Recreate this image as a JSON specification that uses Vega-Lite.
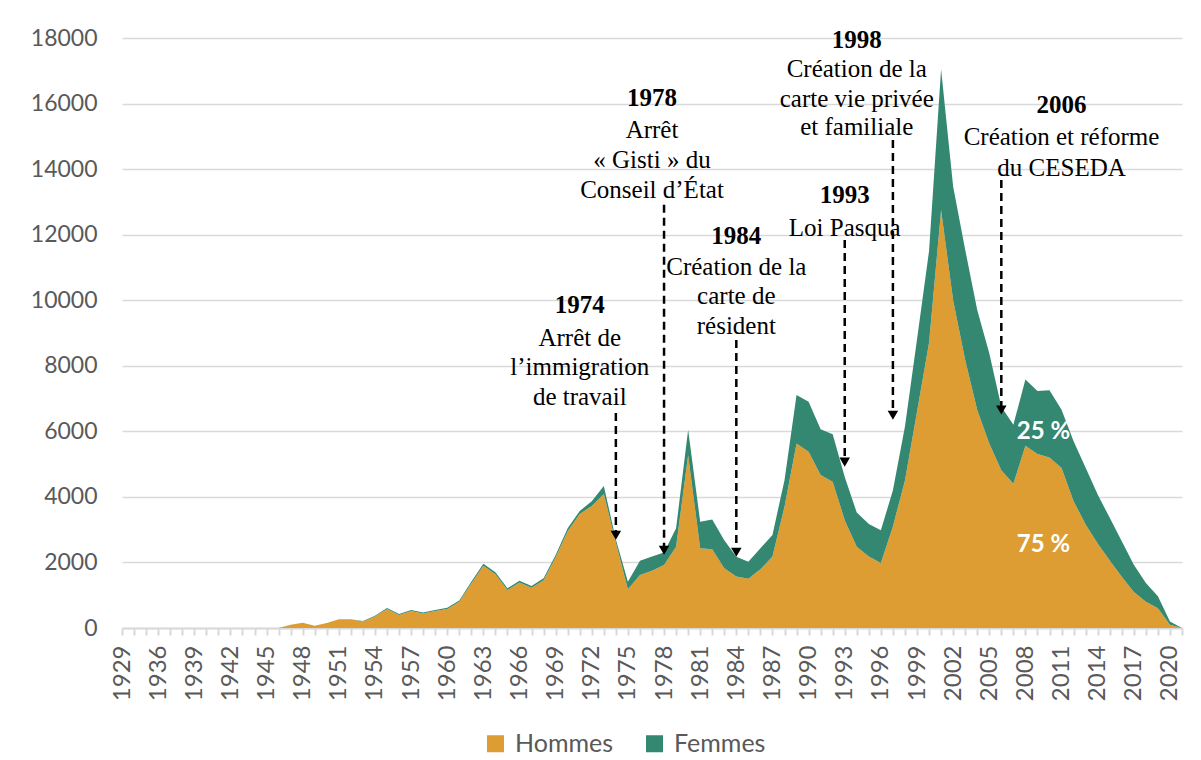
{
  "$schema": "https://vega.github.io/schema/vega-lite/v6.json",
  "autosize": "none",
  "padding": {"left": 122, "top": 38, "right": 19, "bottom": 132},
  "width": 1060,
  "height": 590,
  "background": "white",
  "config": {
    "view": {"stroke": null},
    "axis": {"labelFont": "Lato", "labelFontSize": 23, "labelColor": "#595959"},
    "legend": {"labelFont": "Lato", "labelFontSize": 25, "labelColor": "#595959"}
  },
  "datasets": {
    "series": [
      {"year": 1929, "Hommes": 0, "Femmes": 0},
      {"year": 1931, "Hommes": 0, "Femmes": 0},
      {"year": 1934, "Hommes": 0, "Femmes": 0},
      {"year": 1936, "Hommes": 0, "Femmes": 0},
      {"year": 1937, "Hommes": 0, "Femmes": 0},
      {"year": 1938, "Hommes": 0, "Femmes": 0},
      {"year": 1939, "Hommes": 0, "Femmes": 0},
      {"year": 1940, "Hommes": 0, "Femmes": 0},
      {"year": 1941, "Hommes": 0, "Femmes": 0},
      {"year": 1942, "Hommes": 0, "Femmes": 0},
      {"year": 1943, "Hommes": 0, "Femmes": 0},
      {"year": 1944, "Hommes": 0, "Femmes": 0},
      {"year": 1945, "Hommes": 0, "Femmes": 0},
      {"year": 1946, "Hommes": 0, "Femmes": 0},
      {"year": 1947, "Hommes": 100, "Femmes": 0},
      {"year": 1948, "Hommes": 160, "Femmes": 0},
      {"year": 1949, "Hommes": 70, "Femmes": 0},
      {"year": 1950, "Hommes": 150, "Femmes": 0},
      {"year": 1951, "Hommes": 270, "Femmes": 0},
      {"year": 1952, "Hommes": 270, "Femmes": 0},
      {"year": 1953, "Hommes": 200, "Femmes": 10},
      {"year": 1954, "Hommes": 350, "Femmes": 20},
      {"year": 1955, "Hommes": 580, "Femmes": 30},
      {"year": 1956, "Hommes": 400, "Femmes": 30},
      {"year": 1957, "Hommes": 520, "Femmes": 30},
      {"year": 1958, "Hommes": 440, "Femmes": 30},
      {"year": 1959, "Hommes": 520, "Femmes": 30},
      {"year": 1960, "Hommes": 580, "Femmes": 40},
      {"year": 1961, "Hommes": 800, "Femmes": 40},
      {"year": 1962, "Hommes": 1360, "Femmes": 50},
      {"year": 1963, "Hommes": 1900, "Femmes": 60},
      {"year": 1964, "Hommes": 1640, "Femmes": 60},
      {"year": 1965, "Hommes": 1160, "Femmes": 50},
      {"year": 1966, "Hommes": 1390, "Femmes": 50},
      {"year": 1967, "Hommes": 1230, "Femmes": 50},
      {"year": 1968, "Hommes": 1460, "Femmes": 55},
      {"year": 1969, "Hommes": 2160, "Femmes": 70},
      {"year": 1970, "Hommes": 2950, "Femmes": 90},
      {"year": 1971, "Hommes": 3480, "Femmes": 90},
      {"year": 1972, "Hommes": 3720, "Femmes": 150},
      {"year": 1973, "Hommes": 4090, "Femmes": 240},
      {"year": 1974, "Hommes": 2600, "Femmes": 100},
      {"year": 1975, "Hommes": 1180, "Femmes": 230},
      {"year": 1976, "Hommes": 1620, "Femmes": 430},
      {"year": 1977, "Hommes": 1750, "Femmes": 430},
      {"year": 1978, "Hommes": 1920, "Femmes": 380},
      {"year": 1979, "Hommes": 2480, "Femmes": 560},
      {"year": 1980, "Hommes": 5270, "Femmes": 780},
      {"year": 1981, "Hommes": 2430, "Femmes": 810},
      {"year": 1982, "Hommes": 2400, "Femmes": 910},
      {"year": 1983, "Hommes": 1820, "Femmes": 860},
      {"year": 1984, "Hommes": 1570, "Femmes": 600},
      {"year": 1985, "Hommes": 1500, "Femmes": 520},
      {"year": 1986, "Hommes": 1790, "Femmes": 640},
      {"year": 1987, "Hommes": 2180, "Femmes": 660},
      {"year": 1988, "Hommes": 3700, "Femmes": 810},
      {"year": 1989, "Hommes": 5630, "Femmes": 1480},
      {"year": 1990, "Hommes": 5380, "Femmes": 1520},
      {"year": 1991, "Hommes": 4670, "Femmes": 1390},
      {"year": 1992, "Hommes": 4460, "Femmes": 1450},
      {"year": 1993, "Hommes": 3290, "Femmes": 1320},
      {"year": 1994, "Hommes": 2480, "Femmes": 1040},
      {"year": 1995, "Hommes": 2180, "Femmes": 990},
      {"year": 1996, "Hommes": 1980, "Femmes": 1000},
      {"year": 1997, "Hommes": 3100, "Femmes": 1100},
      {"year": 1998, "Hommes": 4500, "Femmes": 1650},
      {"year": 1999, "Hommes": 6600, "Femmes": 2200},
      {"year": 2000, "Hommes": 8700, "Femmes": 2800},
      {"year": 2001, "Hommes": 12750, "Femmes": 4300},
      {"year": 2002, "Hommes": 10000, "Femmes": 3470},
      {"year": 2003, "Hommes": 8180, "Femmes": 3360},
      {"year": 2004, "Hommes": 6650, "Femmes": 3050},
      {"year": 2005, "Hommes": 5630, "Femmes": 2750},
      {"year": 2006, "Hommes": 4810, "Femmes": 1940},
      {"year": 2007, "Hommes": 4400, "Femmes": 1800},
      {"year": 2008, "Hommes": 5560, "Femmes": 2020},
      {"year": 2009, "Hommes": 5310, "Femmes": 1920},
      {"year": 2010, "Hommes": 5200, "Femmes": 2050},
      {"year": 2011, "Hommes": 4880, "Femmes": 1780},
      {"year": 2012, "Hommes": 3870, "Femmes": 1830},
      {"year": 2013, "Hommes": 3160, "Femmes": 1730},
      {"year": 2014, "Hommes": 2580, "Femmes": 1490},
      {"year": 2015, "Hommes": 2060, "Femmes": 1300},
      {"year": 2016, "Hommes": 1560, "Femmes": 1090},
      {"year": 2017, "Hommes": 1100, "Femmes": 830},
      {"year": 2018, "Hommes": 800, "Femmes": 570},
      {"year": 2019, "Hommes": 600, "Femmes": 370},
      {"year": 2020, "Hommes": 100, "Femmes": 100},
      {"year": 2021, "Hommes": 0, "Femmes": 0}
    ],
    "arrows": [
      {"year": 1974, "top": 6560, "head": 2830},
      {"year": 1978, "top": 12910, "head": 2370},
      {"year": 1984, "top": 8790, "head": 2310},
      {"year": 1993, "top": 11840, "head": 5060},
      {"year": 1997, "top": 14890, "head": 6490},
      {"year": 2006, "top": 13670, "head": 6650}
    ],
    "notes": [
      {"year": 1971, "v": 9850, "label": "1974", "bold": true},
      {"year": 1971, "v": 8850, "label": "Arrêt de", "bold": false},
      {"year": 1971, "v": 7960, "label": "l’immigration", "bold": false},
      {"year": 1971, "v": 7050, "label": "de travail", "bold": false},
      {"year": 1977, "v": 16180, "label": "1978", "bold": true},
      {"year": 1977, "v": 15200, "label": "Arrêt", "bold": false},
      {"year": 1977, "v": 14280, "label": "« Gisti » du", "bold": false},
      {"year": 1977, "v": 13370, "label": "Conseil d’État", "bold": false},
      {"year": 1984, "v": 11960, "label": "1984", "bold": true},
      {"year": 1984, "v": 11010, "label": "Création de la", "bold": false},
      {"year": 1984, "v": 10130, "label": "carte de", "bold": false},
      {"year": 1984, "v": 9210, "label": "résident", "bold": false},
      {"year": 1993, "v": 13210, "label": "1993", "bold": true},
      {"year": 1993, "v": 12210, "label": "Loi Pasqua", "bold": false},
      {"year": 1994, "v": 17950, "label": "1998", "bold": true},
      {"year": 1994, "v": 17040, "label": "Création de la", "bold": false},
      {"year": 1994, "v": 16150, "label": "carte vie privée", "bold": false},
      {"year": 1994, "v": 15270, "label": "et familiale", "bold": false},
      {"year": 2011, "v": 15960, "label": "2006", "bold": true},
      {"year": 2011, "v": 14980, "label": "Création et réforme", "bold": false},
      {"year": 2011, "v": 14040, "label": "du CESEDA", "bold": false}
    ],
    "shares": [
      {"year": 2009, "v": 5980, "label": "25 %"},
      {"year": 2009, "v": 2530, "label": "75 %"}
    ]
  },
  "encoding": {
    "x": {
      "field": "year",
      "type": "ordinal",
      "scale": {"type": "point", "padding": 0},
      "sort": "ascending",
      "axis": {
        "title": null,
        "labelAngle": -90,
        "labelOverlap": false,
        "labelPadding": 10,
        "labelFontSize": 24,
        "labelExpr": "(datum.value == 1929 || (datum.value >= 1936 && (datum.value - 1936) % 3 == 0)) ? datum.label : ''",
        "domainColor": "#d9d9d9",
        "domainWidth": 2,
        "tickColor": "#d9d9d9",
        "tickWidth": 2,
        "tickSize": 7,
        "grid": false
      }
    }
  },
  "layer": [
    {
      "data": {"name": "series"},
      "transform": [{"fold": ["Hommes", "Femmes"], "as": ["sexe", "n"]}],
      "mark": {"type": "area", "opacity": 1},
      "encoding": {
        "y": {
          "field": "n",
          "type": "quantitative",
          "stack": "zero",
          "scale": {"domain": [0, 18000], "nice": false},
          "axis": {
            "title": null,
            "values": [0, 2000, 4000, 6000, 8000, 10000, 12000, 14000, 16000, 18000],
            "format": "d",
            "domain": false,
            "ticks": false,
            "labelPadding": 25,
            "gridColor": "#d9d9d9",
            "gridWidth": 1.5
          }
        },
        "color": {
          "field": "sexe",
          "type": "nominal",
          "scale": {"domain": ["Hommes", "Femmes"], "range": ["#DD9D32", "#348770"]},
          "legend": {
            "title": null,
            "orient": "none",
            "direction": "horizontal",
            "legendX": 361,
            "legendY": 693,
            "symbolType": "square",
            "symbolSize": 289,
            "symbolStrokeWidth": 0,
            "labelOffset": 7,
            "columnPadding": 28
          }
        },
        "order": {"field": "sexe", "sort": "descending"}
      }
    },
    {
      "data": {"name": "arrows"},
      "mark": {"type": "rule", "color": "black", "strokeWidth": 2.5, "strokeDash": [8, 5]},
      "encoding": {
        "y": {"field": "top", "type": "quantitative"},
        "y2": {"field": "head"}
      }
    },
    {
      "data": {"name": "arrows"},
      "mark": {"type": "point", "shape": "triangle-down", "filled": true, "color": "black", "size": 110, "opacity": 1},
      "encoding": {
        "y": {"field": "head", "type": "quantitative"}
      }
    },
    {
      "data": {"name": "notes"},
      "transform": [{"filter": "datum.bold"}],
      "mark": {"type": "text", "font": "Liberation Serif", "fontSize": 25, "fontWeight": "bold", "color": "black", "baseline": "middle", "align": "center"},
      "encoding": {
        "y": {"field": "v", "type": "quantitative"},
        "text": {"field": "label"}
      }
    },
    {
      "data": {"name": "notes"},
      "transform": [{"filter": "!datum.bold"}],
      "mark": {"type": "text", "font": "Liberation Serif", "fontSize": 25, "color": "black", "baseline": "middle", "align": "center"},
      "encoding": {
        "y": {"field": "v", "type": "quantitative"},
        "text": {"field": "label"}
      }
    },
    {
      "data": {"name": "shares"},
      "mark": {"type": "text", "font": "Lato", "fontSize": 24, "fontWeight": "bold", "color": "white", "baseline": "middle", "align": "center", "dx": 6},
      "encoding": {
        "y": {"field": "v", "type": "quantitative"},
        "text": {"field": "label"}
      }
    }
  ]
}
